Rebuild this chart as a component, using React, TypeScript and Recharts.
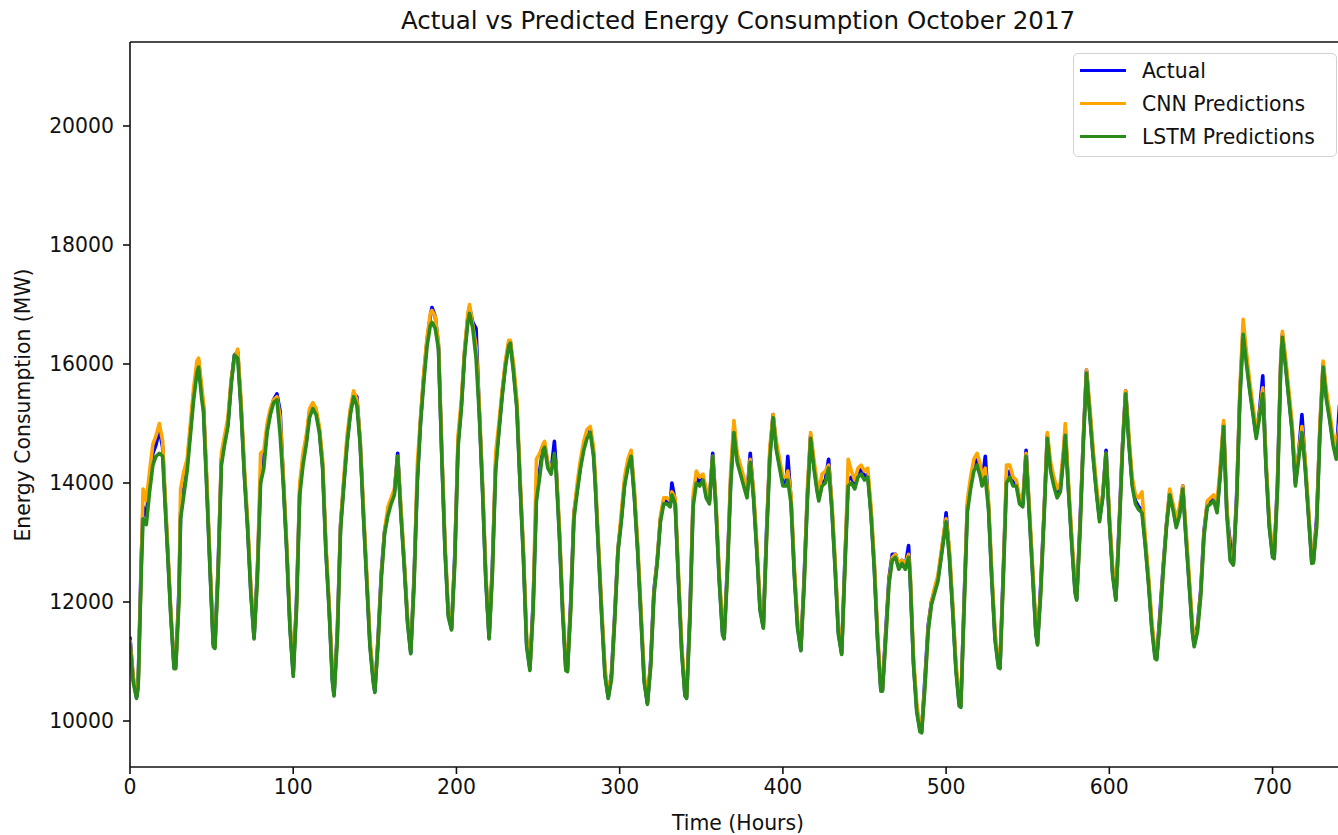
import React from "react";
import { LineChart, Line, XAxis, YAxis, ReferenceLine } from "recharts";

// Hourly load for October 2017 (hour index from the 1st, 00:00), sampled every ~2 h.
const hours = [
  0, 2, 4, 5, 7, 8, 10, 12, 14, 16, 18, 20, 21, 23, 25, 27,
  28, 30, 31, 33, 35, 37, 39, 41, 42, 44, 45, 47, 49, 51,
  52, 54, 56, 58, 60, 62, 64, 66, 68, 70, 72, 74, 76,
  78, 80, 82, 84, 86, 88, 90, 92, 94, 96, 98, 100,
  102, 104, 106, 108, 110, 112, 114, 116, 118, 120, 122, 124, 125,
  127, 129, 131, 133, 135, 137, 139, 141, 143, 145, 147, 149, 150,
  152, 154, 156, 158, 160, 162, 164, 166, 168, 170, 172,
  174, 176, 178, 180, 182, 184, 185, 187, 189, 191, 193, 195, 197,
  199, 201, 203, 205, 207, 208, 210, 212, 214, 216, 218, 220,
  222, 224, 226, 228, 230, 232, 233, 235, 237, 239, 241, 243, 245,
  247, 249, 251, 253, 254, 256, 258, 260, 261, 263, 265, 267, 268,
  270, 272, 274, 276, 278, 280, 282, 284, 285, 287, 289, 291, 293,
  295, 297, 299, 301, 303, 305, 307, 309, 311, 313, 315, 317,
  319, 321, 323, 325, 327, 329, 331, 332, 334, 336, 338, 340, 341,
  343, 345, 347, 349, 351, 353, 355, 357, 359, 361, 363, 364,
  366, 368, 370, 372, 374, 376, 378, 380, 382, 384, 386, 388,
  390, 392, 394, 396, 398, 400, 402, 403, 405, 407, 409, 411,
  413, 415, 417, 419, 421, 422, 424, 426, 428, 430, 432, 434, 436,
  438, 440, 442, 444, 446, 448, 450, 452, 454, 456, 458, 460, 461,
  463, 465, 467, 469, 471, 473, 475, 477, 478, 480, 482, 484, 485,
  487, 489, 491, 493, 495, 497, 499, 500, 502, 504, 506, 508, 509,
  511, 513, 515, 517, 519, 521, 522, 524, 526, 528, 530, 532, 533,
  535, 537, 539, 541, 543, 545, 547, 549, 551, 553, 555, 556,
  558, 560, 562, 564, 566, 568, 570, 572, 573, 575, 577, 579, 580,
  582, 584, 586, 588, 590, 592, 594, 596, 598, 600, 602, 604,
  606, 608, 610, 612, 614, 616, 618, 620, 622, 624, 626, 628, 629,
  631, 633, 635, 637, 639, 641, 643, 645, 647, 649, 651, 652,
  654, 656, 658, 660, 662, 664, 666, 668, 670, 672, 674, 676,
  678, 680, 682, 684, 686, 688, 690, 692, 694, 696, 698, 700, 701,
  703, 705, 706, 708, 710, 712, 714, 716, 718, 720, 722, 724, 725,
  727, 729, 731, 733, 735, 737, 739, 741, 743,
];

const actual = [
  11400, 10700, 10400, 10650, 12800, 13600, 13450, 14000, 14500, 14650, 14900, 14600, 14000, 12900, 11800, 10900,
  10920, 12200, 13500, 13900, 14300, 14900, 15500, 15950, 16050, 15500, 15300, 14000, 12600, 11300,
  11250, 12600, 14400, 14700, 15000, 15700, 16150, 16200, 15300, 14200, 13300, 12200, 11400,
  12500, 14100, 14400, 14900, 15200, 15400, 15500, 15200, 14000, 12900, 11600, 10800,
  12000, 13900, 14400, 14700, 15200, 15320, 15200, 14900, 14300, 12900, 11900, 10700, 10450,
  11500, 13300, 14000, 14700, 15200, 15500, 15450, 14700, 13500, 12400, 11300, 10700, 10500,
  11400, 12500, 13200, 13500, 13700, 13850, 14500, 13500, 12650, 11700, 11150,
  12400, 14050, 15050, 15800, 16400, 16800, 16950, 16800, 16300, 14500, 12900, 11800, 11550,
  12800, 14700, 15300, 16200, 16800, 16950, 16700, 16600, 15200, 13900, 12400, 11400,
  12600, 14300, 14900, 15500, 16000, 16350, 16380, 15900, 15300, 14000, 12800, 11300, 10880,
  12000, 13800, 14200, 14600, 14650, 14300, 14200, 14700, 14300, 13200, 11900, 10900, 10850,
  12000, 13500, 13900, 14300, 14600, 14800, 14900, 14500, 14050, 12900, 11800, 10800, 10400,
  10800, 11800, 12900, 13400, 14000, 14300, 14500, 13800, 12900, 11800, 10700, 10300,
  11000, 12200, 12700, 13400, 13700, 13700, 13650, 14000, 13700, 12400, 11200, 10450, 10400,
  11800, 13700, 14100, 14000, 14100, 13800, 13700, 14500, 13600, 12400, 11500, 11400,
  12600, 14050, 14950, 14400, 14200, 14000, 13800, 14500, 13800, 12900, 11900, 11580,
  13200, 14500, 15150, 14600, 14300, 14000, 14000, 14450, 13700, 12500, 11600, 11200,
  12400, 13800, 14800, 14300, 13900, 13750, 14000, 14050, 14400, 13600, 12600, 11500, 11140,
  12700, 14050, 14100, 13950, 14150, 14250, 14100, 14150, 13500, 12600, 11400, 10550, 10520,
  11500, 12400, 12800, 12800, 12600, 12700, 12600, 12950, 12400, 11000, 10200, 9850, 9820,
  10700, 11600, 12000, 12200, 12400, 12800, 13200, 13500, 12800, 11900, 10900, 10300, 10250,
  12000, 13600, 14000, 14300, 14400, 14200, 14000, 14450, 13600, 12400, 11400, 10950, 10900,
  12500, 14100, 14200, 14000, 14000, 13700, 13650, 14550, 13500, 12500, 11500, 11300,
  12300, 13500, 14800, 14250, 14000, 13800, 13900, 14500, 14900, 13900, 13000, 12200, 12050,
  13300, 14700, 15900, 15200, 14500, 13900, 13400, 13800, 14550, 13400, 12500, 12050,
  13300, 14600, 15550, 14700, 14000, 13700, 13600, 13550, 13000, 12350, 11600, 11100, 11050,
  11800, 12600, 13300, 13850, 13600, 13300, 13500, 13950, 13100, 12300, 11500, 11280,
  11600, 12200, 13200, 13650, 13700, 13750, 13550, 14200, 15000, 13500, 13000, 12650,
  13800, 15500, 16600, 16100, 15600, 15200, 14800, 15200, 15800, 14300, 13300, 12800, 12750,
  14000, 16000, 16500, 16000, 15450, 14900, 14000, 14500, 15150, 14300, 13500, 12700, 12680,
  13400, 14900, 16000, 15450, 15100, 14700, 14450, 15300, 15500,
];

const cnnPred = [
  11350, 10750, 10450, 10600, 12700, 13900, 13700, 14200, 14650, 14800, 15000, 14700, 14100, 13000, 11850, 10950,
  10900, 12100, 13900, 14200, 14400, 15000, 15600, 16050, 16100, 15600, 15350, 14100, 12700, 11350,
  11250, 12500, 14500, 14800, 15100, 15750, 16100, 16250, 15400, 14300, 13400, 12300, 11450,
  12400, 14500, 14550, 15000, 15250, 15400, 15450, 15100, 14100, 13000, 11700, 10850,
  11900, 14000, 14500, 14800, 15250, 15350, 15250, 14950, 14400, 13000, 12000, 10800, 10500,
  11400, 13300, 14100, 14800, 15250, 15550, 15400, 14750, 13600, 12500, 11400, 10750, 10550,
  11350, 12450, 13200, 13600, 13750, 13900, 14450, 13600, 12700, 11750, 11200,
  12300, 14300, 15100, 15850, 16450, 16850, 16900, 16800, 16350, 14600, 13000, 11850, 11600,
  12700, 14800, 15400, 16250, 16850, 17000, 16650, 16300, 15300, 14000, 12500, 11450,
  12500, 14500, 15000, 15550, 16050, 16400, 16400, 16000, 15400, 14100, 12900, 11400, 10900,
  11900, 14400, 14500, 14650, 14700, 14350, 14250, 14400, 14300, 13300, 12000, 11000, 10900,
  11900, 13500, 14000, 14400, 14700, 14900, 14950, 14600, 14150, 13000, 11900, 10900, 10450,
  10750, 11750, 12900, 13500, 14100, 14400, 14550, 13900, 13000, 11900, 10800, 10350,
  10950, 12150, 12700, 13450, 13750, 13750, 13700, 13850, 13750, 12500, 11300, 10500, 10420,
  11700, 13800, 14200, 14100, 14150, 13900, 13750, 14450, 13700, 12500, 11600, 11420,
  12500, 14200, 15050, 14500, 14300, 14100, 13850, 14400, 13900, 13000, 12000, 11600,
  13100, 14600, 15150, 14700, 14400, 14100, 14100, 14200, 13800, 12600, 11700, 11250,
  12300, 13900, 14850, 14400, 14000, 13850, 14150, 14200, 14300, 13700, 12700, 11600, 11180,
  12600, 14400, 14200, 14050, 14250, 14300, 14200, 14250, 13600, 12700, 11500, 10600, 10540,
  11400, 12350, 12750, 12800, 12650, 12700, 12650, 12800, 12500, 11100, 10300, 9900, 9850,
  10600, 11550, 12000, 12250, 12450, 12850, 13250, 13400, 12900, 12000, 11000, 10350, 10280,
  11900, 13700, 14100, 14400, 14500, 14300, 14100, 14250, 13700, 12500, 11500, 11000, 10920,
  12400, 14300, 14300, 14100, 14050, 13750, 13700, 14500, 13600, 12600, 11600, 11350,
  12200, 13500, 14850, 14350, 14100, 13900, 14000, 14600, 15000, 14000, 13100, 12300, 12100,
  13200, 14700, 15900, 15300, 14600, 14000, 13500, 13800, 14500, 13500, 12600, 12100,
  13200, 14600, 15550, 14800, 14100, 13800, 13750, 13850, 13100, 12450, 11700, 11150, 11080,
  11700, 12550, 13300, 13900, 13650, 13400, 13600, 13950, 13200, 12400, 11600, 11320,
  11550, 12150, 13150, 13700, 13750, 13800, 13650, 14300, 15050, 13600, 12800, 12700,
  13700, 15600, 16750, 16200, 15700, 15300, 14900, 15150, 15600, 14400, 13400, 12850, 12780,
  13900, 16100, 16550, 16100, 15550, 15000, 14100, 14500, 14950, 14400, 13600, 12750, 12700,
  13300, 15000, 16050, 15550, 15200, 14800, 14550, 15000, 15200,
];

const lstmPred = [
  11300, 10650, 10380, 10550, 12600, 13400, 13300, 13850, 14300, 14450, 14500, 14450, 13900, 12850, 11750, 10880,
  10880, 12000, 13400, 13800, 14200, 14800, 15400, 15850, 15950, 15400, 15200, 13900, 12550, 11250,
  11220, 12450, 14300, 14650, 14950, 15650, 16150, 16100, 15250, 14150, 13250, 12150, 11380,
  12350, 14000, 14250, 14850, 15150, 15350, 15400, 14800, 13950, 12850, 11550, 10750,
  11850, 13800, 14300, 14650, 15100, 15250, 15150, 14850, 14250, 12850, 11850, 10650, 10420,
  11350, 13200, 13950, 14650, 15150, 15450, 15300, 14650, 13450, 12350, 11250, 10650, 10480,
  11300, 12400, 13150, 13450, 13650, 13800, 14450, 13450, 12600, 11650, 11130,
  12250, 14000, 15000, 15700, 16300, 16650, 16700, 16600, 16250, 14450, 12850, 11750, 11530,
  12650, 14600, 15250, 16150, 16700, 16850, 16600, 16100, 15150, 13850, 12350, 11380,
  12450, 14200, 14850, 15450, 15950, 16300, 16350, 15850, 15250, 13950, 12750, 11250, 10850,
  11850, 13700, 14100, 14550, 14600, 14250, 14150, 14500, 14200, 13150, 11850, 10850, 10830,
  11850, 13400, 13850, 14250, 14550, 14750, 14850, 14450, 14000, 12850, 11750, 10750, 10380,
  10700, 11700, 12850, 13350, 13950, 14250, 14450, 13750, 12850, 11750, 10650, 10280,
  10900, 12100, 12650, 13350, 13650, 13650, 13600, 13800, 13650, 12350, 11150, 10420, 10380,
  11650, 13600, 14000, 13950, 14050, 13750, 13650, 14450, 13550, 12350, 11450, 11380,
  12450, 13950, 14850, 14350, 14150, 13950, 13750, 14350, 13750, 12850, 11850, 11560,
  13050, 14400, 15100, 14550, 14250, 13950, 13950, 14050, 13650, 12450, 11550, 11180,
  12250, 13700, 14750, 14250, 13850, 13700, 13950, 14000, 14250, 13550, 12550, 11450, 11120,
  12550, 13950, 14000, 13900, 14100, 14150, 14050, 14100, 13450, 12550, 11350, 10500, 10500,
  11350, 12300, 12700, 12750, 12550, 12650, 12550, 12750, 12400, 10950, 10150, 9820, 9800,
  10550, 11500, 11950, 12150, 12350, 12750, 13150, 13350, 12750, 11850, 10850, 10250, 10230,
  11850, 13500, 13900, 14200, 14300, 14100, 13950, 14100, 13550, 12350, 11350, 10900, 10880,
  12350, 14000, 14100, 13950, 13950, 13650, 13600, 14450, 13450, 12450, 11450, 11280,
  12150, 13400, 14750, 14200, 13950, 13750, 13850, 14450, 14800, 13850, 12950, 12150, 12030,
  13150, 14600, 15850, 15150, 14450, 13850, 13350, 13750, 14500, 13350, 12450, 12030,
  13150, 14500, 15500, 14650, 13950, 13650, 13550, 13500, 12950, 12300, 11550, 11050, 11030,
  11650, 12500, 13250, 13800, 13550, 13250, 13450, 13900, 13050, 12250, 11450, 11250,
  11500, 12100, 13100, 13600, 13650, 13700, 13500, 14150, 14950, 13450, 12700, 12620,
  13650, 15400, 16500, 16000, 15550, 15150, 14750, 15100, 15500, 14250, 13250, 12750, 12730,
  13850, 15950, 16450, 15950, 15400, 14850, 13950, 14400, 14850, 14250, 13450, 12650, 12660,
  13250, 14800, 15950, 15400, 15050, 14650, 14400, 14900, 15100,
];

const xTicks = [0, 100, 200, 300, 400, 500, 600, 700];
const yTicks = [10000, 12000, 14000, 16000, 18000, 20000];

const X_DOMAIN: [number, number] = [0, 745];
const Y_DOMAIN: [number, number] = [9227, 21412];

const series = [
  { key: "actual", name: "Actual", color: "#0000ff" },
  { key: "cnn", name: "CNN Predictions", color: "#ffa500" },
  { key: "lstm", name: "LSTM Predictions", color: "#2a8a1a" },
];

const data = hours.map((h, i) => ({
  hour: h,
  actual: actual[i],
  cnn: cnnPred[i],
  lstm: lstmPred[i],
}));

const FONT = '"DejaVu Sans", Verdana, sans-serif';
const TICK_FONT = 20.4;

function LegendBox() {
  return (
    <div
      style={{
        position: "absolute",
        left: 1073,
        top: 53,
        width: 264,
        height: 104,
        boxSizing: "border-box",
        border: "1.5px solid #d2d2d2",
        borderRadius: 5,
        background: "rgba(255,255,255,0.85)",
      }}
    >
      {series.map((s, i) => (
        <div
          key={s.key}
          style={{ position: "absolute", left: 0, top: 4.5 + i * 33, height: 24, width: "100%" }}
        >
          <span
            style={{
              position: "absolute",
              left: 6,
              top: 10.5,
              width: 46,
              height: 3,
              background: s.color,
            }}
          />
          <span
            style={{
              position: "absolute",
              left: 68,
              top: 0,
              lineHeight: "24px",
              fontSize: TICK_FONT,
              whiteSpace: "nowrap",
              color: "#111",
            }}
          >
            {s.name}
          </span>
        </div>
      ))}
    </div>
  );
}

export default function App() {
  return (
    <div
      style={{
        position: "fixed",
        left: 0,
        top: 0,
        width: 1338,
        height: 835,
        overflow: "hidden",
        background: "#fff",
        fontFamily: FONT,
        color: "#111",
      }}
    >
      <LineChart
        width={1360}
        height={835}
        data={data}
        margin={{ top: 42, right: 14, bottom: 0, left: 0 }}
      >
        <XAxis
          dataKey="hour"
          type="number"
          domain={X_DOMAIN}
          ticks={xTicks}
          allowDataOverflow
          height={68}
          tickSize={7}
          tickMargin={6}
          tick={{ fill: "#111", fontSize: TICK_FONT, fontFamily: FONT }}
          axisLine={{ stroke: "#111", strokeWidth: 1.6 }}
          tickLine={{ stroke: "#111", strokeWidth: 1.6 }}
        />
        <YAxis
          type="number"
          domain={Y_DOMAIN}
          ticks={yTicks}
          allowDataOverflow
          width={130}
          tickSize={7}
          tickMargin={9}
          tick={{ fill: "#111", fontSize: TICK_FONT, fontFamily: FONT }}
          axisLine={{ stroke: "#111", strokeWidth: 1.6 }}
          tickLine={{ stroke: "#111", strokeWidth: 1.6 }}
        />
        {/* top spine of the frame */}
        <ReferenceLine y={Y_DOMAIN[1]} stroke="#111" strokeWidth={1.6} />
        {series.map((s) => (
          <Line
            key={s.key}
            type="linear"
            dataKey={s.key}
            name={s.name}
            stroke={s.color}
            strokeWidth={3.6}
            strokeLinejoin="round"
            strokeLinecap="round"
            dot={false}
            activeDot={false}
            isAnimationActive={false}
          />
        ))}
      </LineChart>

      <div
        style={{
          position: "absolute",
          left: 738,
          top: 9,
          transform: "translateX(-50%)",
          fontSize: 24.5,
          lineHeight: 1,
          whiteSpace: "nowrap",
        }}
      >
        Actual vs Predicted Energy Consumption October 2017
      </div>

      <div
        style={{
          position: "absolute",
          left: 738,
          top: 813,
          transform: "translateX(-50%)",
          fontSize: TICK_FONT,
          lineHeight: 1,
          whiteSpace: "nowrap",
        }}
      >
        Time (Hours)
      </div>

      <div
        style={{
          position: "absolute",
          left: 23,
          top: 405,
          transform: "translate(-50%, -50%) rotate(-90deg)",
          fontSize: TICK_FONT,
          lineHeight: 1,
          whiteSpace: "nowrap",
        }}
      >
        Energy Consumption (MW)
      </div>

      <LegendBox />
    </div>
  );
}
